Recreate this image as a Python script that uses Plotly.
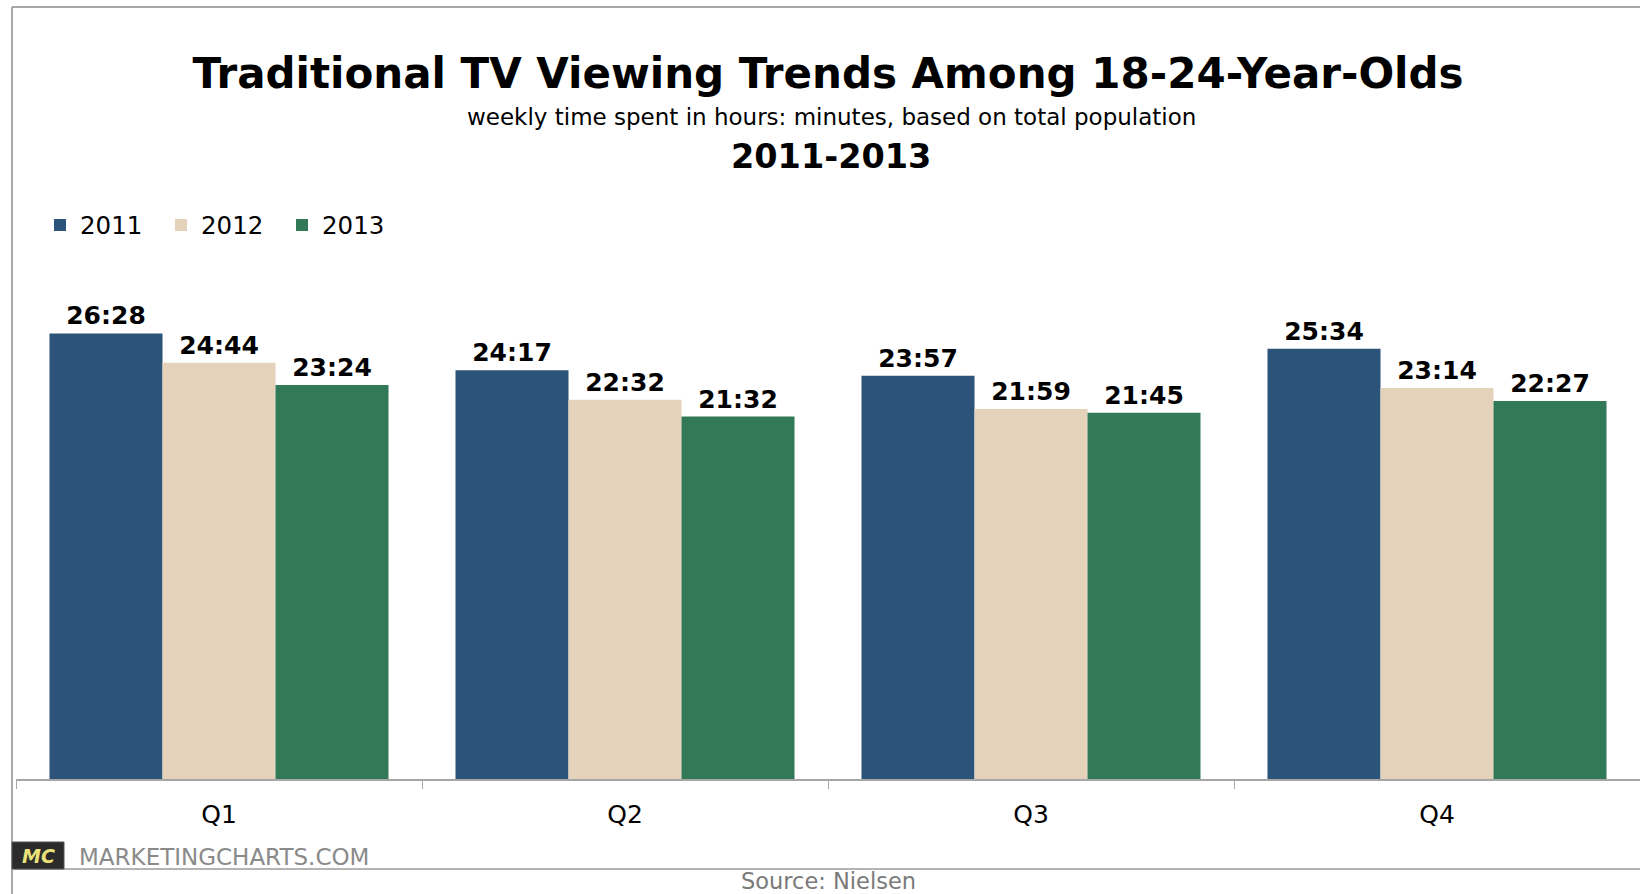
import plotly.graph_objects as go

# Weekly TV time for 18-24s, hours:minutes per quarter
quarters = ["Q1", "Q2", "Q3", "Q4"]
years = ["2011", "2012", "2013"]
values_2011 = ["26:28", "24:17", "23:57", "25:34"]
values_2012 = ["24:44", "22:32", "21:59", "23:14"]
values_2013 = ["23:24", "21:32", "21:45", "22:27"]
colors = ["#2C5379", "#E4D2BB", "#327A57"]

W, H = 1640, 894
L, R, T, B = 16, 0, 274, 115  # plot area margins in px


def to_hours(hm):
    h, m = hm.split(":")
    return int(h) + int(m) / 60.0


def px_x(px):
    return (px - L) / (W - L - R)


def px_y(py):
    return (H - B - py) / (H - T - B)


fig = go.Figure()
for name, vals, col in zip(years, [values_2011, values_2012, values_2013], colors):
    fig.add_trace(go.Bar(
        name=name,
        x=quarters,
        y=[to_hours(v) for v in vals],
        text=vals,
        textposition="outside",
        textfont=dict(family="DejaVu Sans", size=25, color="#000000", weight="bold"),
        marker=dict(color=col, line=dict(width=0)),
        cliponaxis=False,
        hoverinfo="skip",
    ))

fig.update_layout(
    width=W, height=H,
    margin=dict(l=L, r=R, t=T, b=B),
    paper_bgcolor="white",
    plot_bgcolor="white",
    barmode="group",
    bargap=0.165,
    bargroupgap=0,
    showlegend=True,
    legend=dict(
        orientation="h",
        xref="container", yref="container",
        x=40 / W, y=1 - 225 / H,
        xanchor="left", yanchor="middle",
        font=dict(family="DejaVu Sans", size=24.5, color="#000000"),
        itemwidth=30,
        entrywidth=76,
        traceorder="normal",
        bgcolor="rgba(0,0,0,0)",
    ),
    title=dict(
        text="<b>Traditional TV Viewing Trends Among 18-24-Year-Olds</b>",
        xref="container", yref="container",
        x=828 / W, y=1 - 73 / H,
        xanchor="center", yanchor="middle",
        font=dict(family="DejaVu Sans", size=42, color="#000000"),
    ),
    font=dict(family="DejaVu Sans"),
)

fig.update_xaxes(
    showline=True, linecolor="#A6A6A6", linewidth=1.5,
    ticks="outside", tickson="boundaries", ticklen=8, tickcolor="#A6A6A6", tickwidth=1,
    tickfont=dict(family="DejaVu Sans", size=25, color="#000000"),
    ticklabelstandoff=12,
    showgrid=False, zeroline=False,
)
fig.update_yaxes(range=[0, 30], visible=False, showgrid=False, zeroline=False)

# Subtitle lines
fig.add_annotation(
    text="weekly time spent in hours: minutes, based on total population",
    xref="paper", yref="paper", x=px_x(831), y=px_y(117),
    xanchor="center", yanchor="middle", showarrow=False,
    font=dict(family="DejaVu Sans", size=23, color="#000000"),
)
fig.add_annotation(
    text="<b>2011-2013</b>",
    xref="paper", yref="paper", x=px_x(831), y=px_y(156),
    xanchor="center", yanchor="middle", showarrow=False,
    font=dict(family="DejaVu Sans", size=33.5, color="#000000"),
)

# Frame lines
fig.add_shape(type="line", xref="paper", yref="paper",
              x0=px_x(12), x1=px_x(W), y0=px_y(7), y1=px_y(7),
              line=dict(color="#A8A8A8", width=2))
fig.add_shape(type="line", xref="paper", yref="paper",
              x0=px_x(12), x1=px_x(12), y0=px_y(7), y1=px_y(H),
              line=dict(color="#A8A8A8", width=2))
fig.add_shape(type="line", xref="paper", yref="paper",
              x0=px_x(12), x1=px_x(W), y0=px_y(869), y1=px_y(869),
              line=dict(color="#B4B4B4", width=2))

# Footer brand box
fig.add_shape(type="rect", xref="paper", yref="paper",
              x0=px_x(12), x1=px_x(64), y0=px_y(842), y1=px_y(869),
              fillcolor="#2B2B2B", line=dict(color="#555555", width=1))
fig.add_annotation(
    text="<b><i>MC</i></b>",
    xref="paper", yref="paper", x=px_x(38), y=px_y(856),
    xanchor="center", yanchor="middle", showarrow=False,
    font=dict(family="DejaVu Sans", size=19, color="#E9E27A"),
)
fig.add_annotation(
    text="MARKETINGCHARTS.COM",
    xref="paper", yref="paper", x=px_x(77), y=px_y(857),
    xanchor="left", yanchor="middle", showarrow=False,
    font=dict(family="DejaVu Sans", size=23, color="#8A8A8A"),
)
fig.add_annotation(
    text="Source: Nielsen",
    xref="paper", yref="paper", x=px_x(828), y=px_y(881),
    xanchor="center", yanchor="middle", showarrow=False,
    font=dict(family="DejaVu Sans", size=22.5, color="#7A7A7A"),
)

fig.write_html("out.html")
